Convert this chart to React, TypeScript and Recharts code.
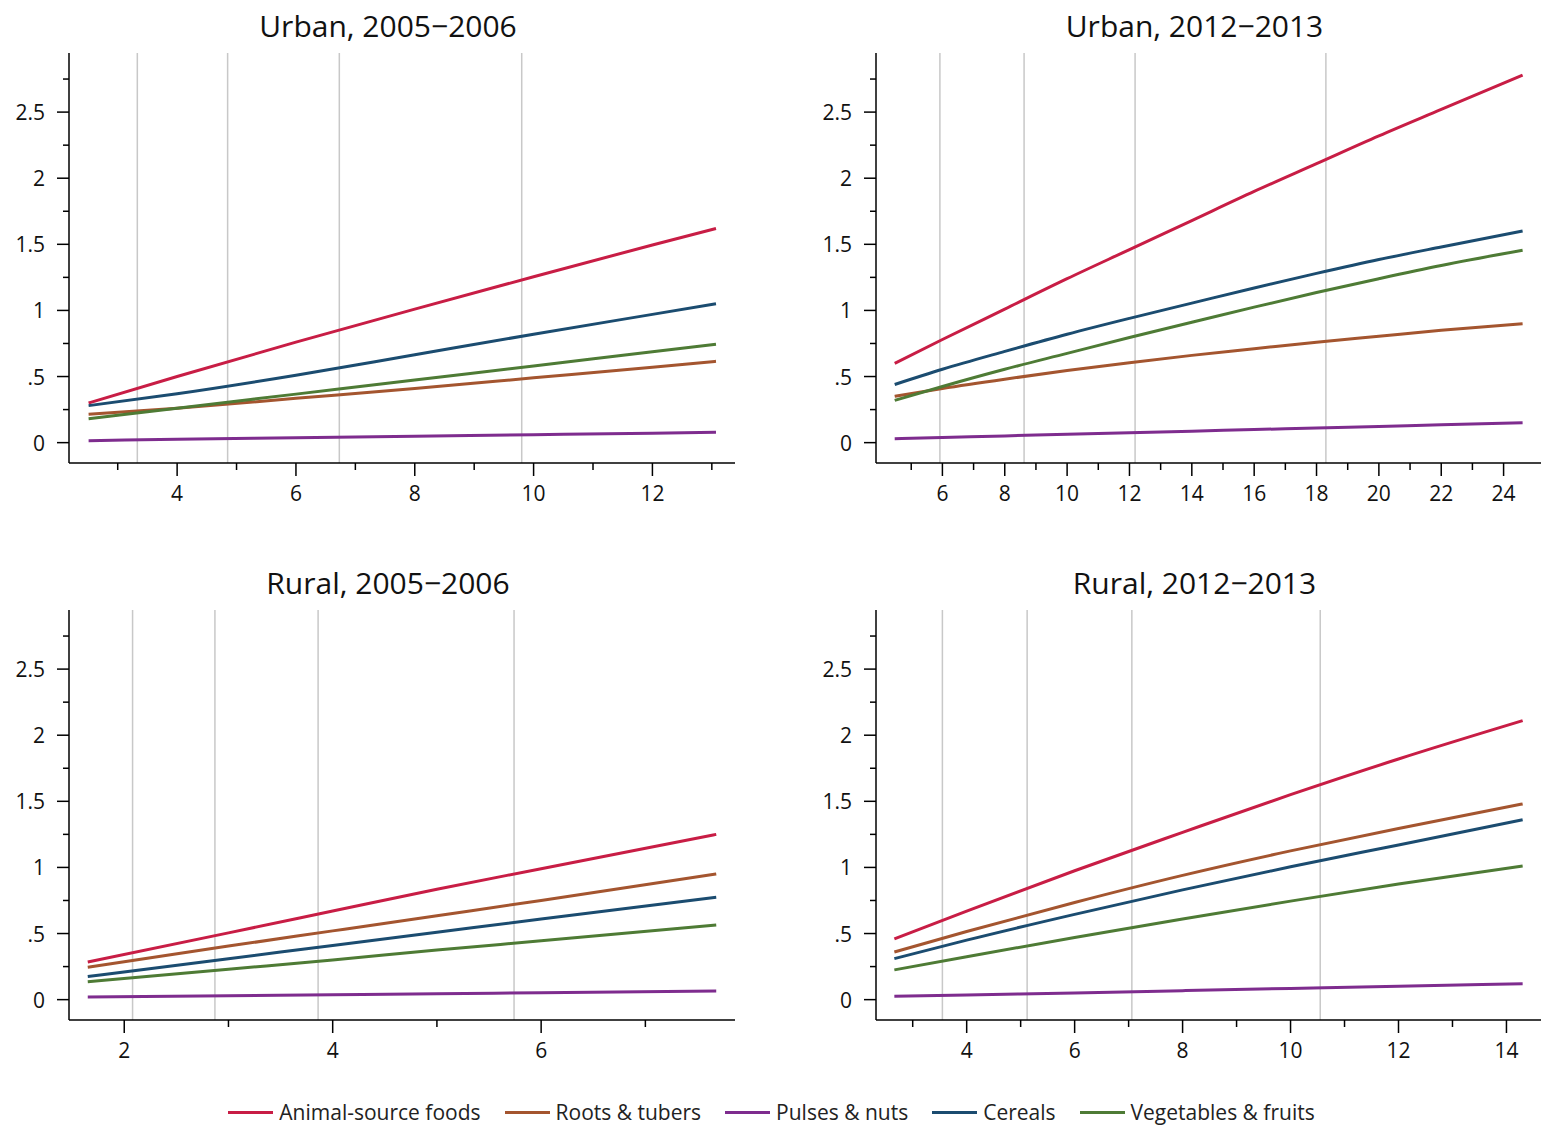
import React from 'react';
import { LineChart, Line, XAxis, YAxis, ReferenceLine } from 'recharts';

const font = '"Open Sans", sans-serif';

const seriesNames = ['Animal-source foods', 'Roots & tubers', 'Pulses & nuts', 'Cereals', 'Vegetables & fruits'];
const seriesKeys = ['animal', 'roots', 'pulses', 'cereals', 'veg'];
const seriesColors = ['#C81D45', '#A4552F', '#7E2C8E', '#1B4C70', '#4E7B35'];

const yTicks = [0, 0.25, 0.5, 0.75, 1, 1.25, 1.5, 1.75, 2, 2.25, 2.5, 2.75];

// Urban, 2005-2006
const u05X = [2.51, 4, 6, 8, 10, 12, 13.07];
const u05Animal = [0.3, 0.5, 0.76, 1.01, 1.255, 1.495, 1.62];
const u05Roots = [0.215, 0.26, 0.335, 0.41, 0.49, 0.57, 0.615];
const u05Pulses = [0.015, 0.025, 0.037, 0.048, 0.06, 0.071, 0.078];
const u05Cereals = [0.28, 0.37, 0.51, 0.665, 0.82, 0.97, 1.05];
const u05Veg = [0.18, 0.26, 0.367, 0.474, 0.58, 0.688, 0.745];
const u05Cuts = [3.33, 4.85, 6.73, 9.8];
const u05Ticks = [3, 4, 5, 6, 7, 8, 9, 10, 11, 12, 13];

// Urban, 2012-2013
const u12X = [4.47, 6, 8, 10, 12, 14, 16, 18, 20, 22, 24.61];
const u12Animal = [0.6, 0.78, 1.01, 1.24, 1.46, 1.68, 1.9, 2.11, 2.32, 2.52, 2.78];
const u12Roots = [0.35, 0.41, 0.48, 0.545, 0.605, 0.66, 0.71, 0.76, 0.805, 0.85, 0.9];
const u12Pulses = [0.03, 0.039, 0.051, 0.063, 0.075, 0.087, 0.099, 0.111, 0.123, 0.135, 0.15];
const u12Cereals = [0.44, 0.555, 0.69, 0.82, 0.94, 1.055, 1.17, 1.28, 1.385, 1.48, 1.6];
const u12Veg = [0.32, 0.425, 0.555, 0.675, 0.795, 0.91, 1.025, 1.135, 1.24, 1.34, 1.455];
const u12Cuts = [5.92, 8.62, 12.18, 18.3];
const u12Ticks = [5, 6, 7, 8, 9, 10, 11, 12, 13, 14, 15, 16, 17, 18, 19, 20, 21, 22, 23, 24];

// Rural, 2005-2006
const r05X = [1.65, 3, 4, 5, 6, 7.68];
const r05Animal = [0.285, 0.505, 0.67, 0.835, 0.99, 1.25];
const r05Roots = [0.245, 0.405, 0.52, 0.635, 0.75, 0.95];
const r05Pulses = [0.02, 0.03, 0.037, 0.045, 0.052, 0.065];
const r05Cereals = [0.175, 0.31, 0.41, 0.51, 0.61, 0.775];
const r05Veg = [0.135, 0.23, 0.3, 0.375, 0.445, 0.565];
const r05Cuts = [2.08, 2.87, 3.86, 5.74];
const r05Ticks = [2, 3, 4, 5, 6, 7];

// Rural, 2012-2013
const r12X = [2.66, 4, 6, 8, 10, 12, 14.3];
const r12Animal = [0.46, 0.67, 0.975, 1.265, 1.55, 1.82, 2.11];
const r12Roots = [0.36, 0.515, 0.735, 0.94, 1.125, 1.295, 1.48];
const r12Pulses = [0.025, 0.035, 0.051, 0.068, 0.085, 0.102, 0.12];
const r12Cereals = [0.31, 0.45, 0.645, 0.83, 1.005, 1.17, 1.36];
const r12Veg = [0.225, 0.325, 0.47, 0.61, 0.745, 0.875, 1.01];
const r12Cuts = [3.55, 5.12, 7.06, 10.55];
const r12Ticks = [3, 4, 5, 6, 7, 8, 9, 10, 11, 12, 13, 14];

const buildRows = (xs: number[], animal: number[], roots: number[], pulses: number[], cereals: number[], veg: number[]) =>
  xs.map((x, i) => ({ x, animal: animal[i], roots: roots[i], pulses: pulses[i], cereals: cereals[i], veg: veg[i] }));

const fmtY = (v: number) => (v === 0 ? '0' : String(v).replace(/^0\./, '.'));

const YTick = (props: any) => {
  const { x, y, payload } = props;
  const v = payload.value;
  const major = Math.abs(v * 2 - Math.round(v * 2)) < 1e-6;
  return (
    <g>
      <line x1={x - (major ? 12 : 6)} x2={x} y1={y} y2={y} stroke="#000" strokeWidth={1.5} />
      {major && (
        <text x={x - 24} y={y} textAnchor="end" dominantBaseline="central" fontSize={21} fontFamily={font} fill="#111">
          {fmtY(v)}
        </text>
      )}
    </g>
  );
};

const XTick = (props: any) => {
  const { x, y, payload } = props;
  const v = payload.value;
  const major = v % 2 === 0;
  return (
    <g>
      <line x1={x} x2={x} y1={y} y2={y + (major ? 13 : 7)} stroke="#000" strokeWidth={1.5} />
      {major && (
        <text x={x} y={y + 38} textAnchor="middle" fontSize={21} fontFamily={font} fill="#111">
          {v}
        </text>
      )}
    </g>
  );
};

type PanelProps = {
  title: string;
  left: number;
  top: number;
  plotWidth: number;
  xDomain: [number, number];
  xTicks: number[];
  cuts: number[];
  data: any[];
};

const Panel = ({ title, left, top, plotWidth, xDomain, xTicks, cuts, data }: PanelProps) => {
  const width = 9 + 60 + plotWidth + 10;
  return (
    <div style={{ position: 'absolute', left, top, width, height: 513 }}>
      <div
        style={{
          position: 'absolute',
          left: 69 - 14,
          top: 6,
          width: plotWidth,
          textAlign: 'center',
          fontFamily: font,
          fontSize: 30,
          lineHeight: '40px',
          color: '#111',
        }}
      >
        {title}
      </div>
      <LineChart width={width} height={513} data={data} margin={{ top: 53, right: 10, bottom: 0, left: 9 }}>
        <XAxis
          type="number"
          dataKey="x"
          domain={xDomain}
          allowDataOverflow
          ticks={xTicks}
          interval={0}
          height={50}
          tickSize={0}
          tickMargin={0}
          tickLine={false}
          tick={<XTick />}
          axisLine={{ stroke: '#000', strokeWidth: 1.5 }}
        />
        <YAxis
          type="number"
          domain={[-0.154, 2.947]}
          allowDataOverflow
          ticks={yTicks}
          interval={0}
          width={60}
          tickSize={0}
          tickMargin={0}
          tickLine={false}
          tick={<YTick />}
          axisLine={{ stroke: '#000', strokeWidth: 1.5 }}
        />
        {cuts.map((c) => (
          <ReferenceLine key={c} x={c} stroke="#c8c8c8" strokeWidth={1.5} />
        ))}
        {seriesKeys.map((k, i) => (
          <Line
            key={k}
            dataKey={k}
            type="monotone"
            stroke={seriesColors[i]}
            strokeWidth={3}
            dot={false}
            isAnimationActive={false}
          />
        ))}
      </LineChart>
    </div>
  );
};

export default function App() {
  return (
    <div style={{ position: 'absolute', left: 0, top: 0, width: 1543, height: 1127, background: '#fff' }}>
      <Panel
        title="Urban, 2005−2006"
        left={0}
        top={0}
        plotWidth={666}
        xDomain={[2.18, 13.39]}
        xTicks={u05Ticks}
        cuts={u05Cuts}
        data={buildRows(u05X, u05Animal, u05Roots, u05Pulses, u05Cereals, u05Veg)}
      />
      <Panel
        title="Urban, 2012−2013"
        left={807}
        top={0}
        plotWidth={665}
        xDomain={[3.87, 25.2]}
        xTicks={u12Ticks}
        cuts={u12Cuts}
        data={buildRows(u12X, u12Animal, u12Roots, u12Pulses, u12Cereals, u12Veg)}
      />
      <Panel
        title="Rural, 2005−2006"
        left={0}
        top={557}
        plotWidth={666}
        xDomain={[1.47, 7.86]}
        xTicks={r05Ticks}
        cuts={r05Cuts}
        data={buildRows(r05X, r05Animal, r05Roots, r05Pulses, r05Cereals, r05Veg)}
      />
      <Panel
        title="Rural, 2012−2013"
        left={807}
        top={557}
        plotWidth={665}
        xDomain={[2.32, 14.64]}
        xTicks={r12Ticks}
        cuts={r12Cuts}
        data={buildRows(r12X, r12Animal, r12Roots, r12Pulses, r12Cereals, r12Veg)}
      />
      <div
        style={{
          position: 'absolute',
          left: 0,
          top: 1099,
          width: 1543,
          height: 26,
          display: 'flex',
          justifyContent: 'center',
          alignItems: 'center',
          fontFamily: font,
          fontSize: 21,
          color: '#222',
        }}
      >
        {seriesNames.map((name, i) => (
          <div key={name} style={{ display: 'flex', alignItems: 'center', marginRight: i < seriesNames.length - 1 ? 24 : 0 }}>
            <span style={{ display: 'inline-block', width: 45, height: 3, background: seriesColors[i], marginRight: 6 }} />
            <span>{name}</span>
          </div>
        ))}
      </div>
    </div>
  );
}
